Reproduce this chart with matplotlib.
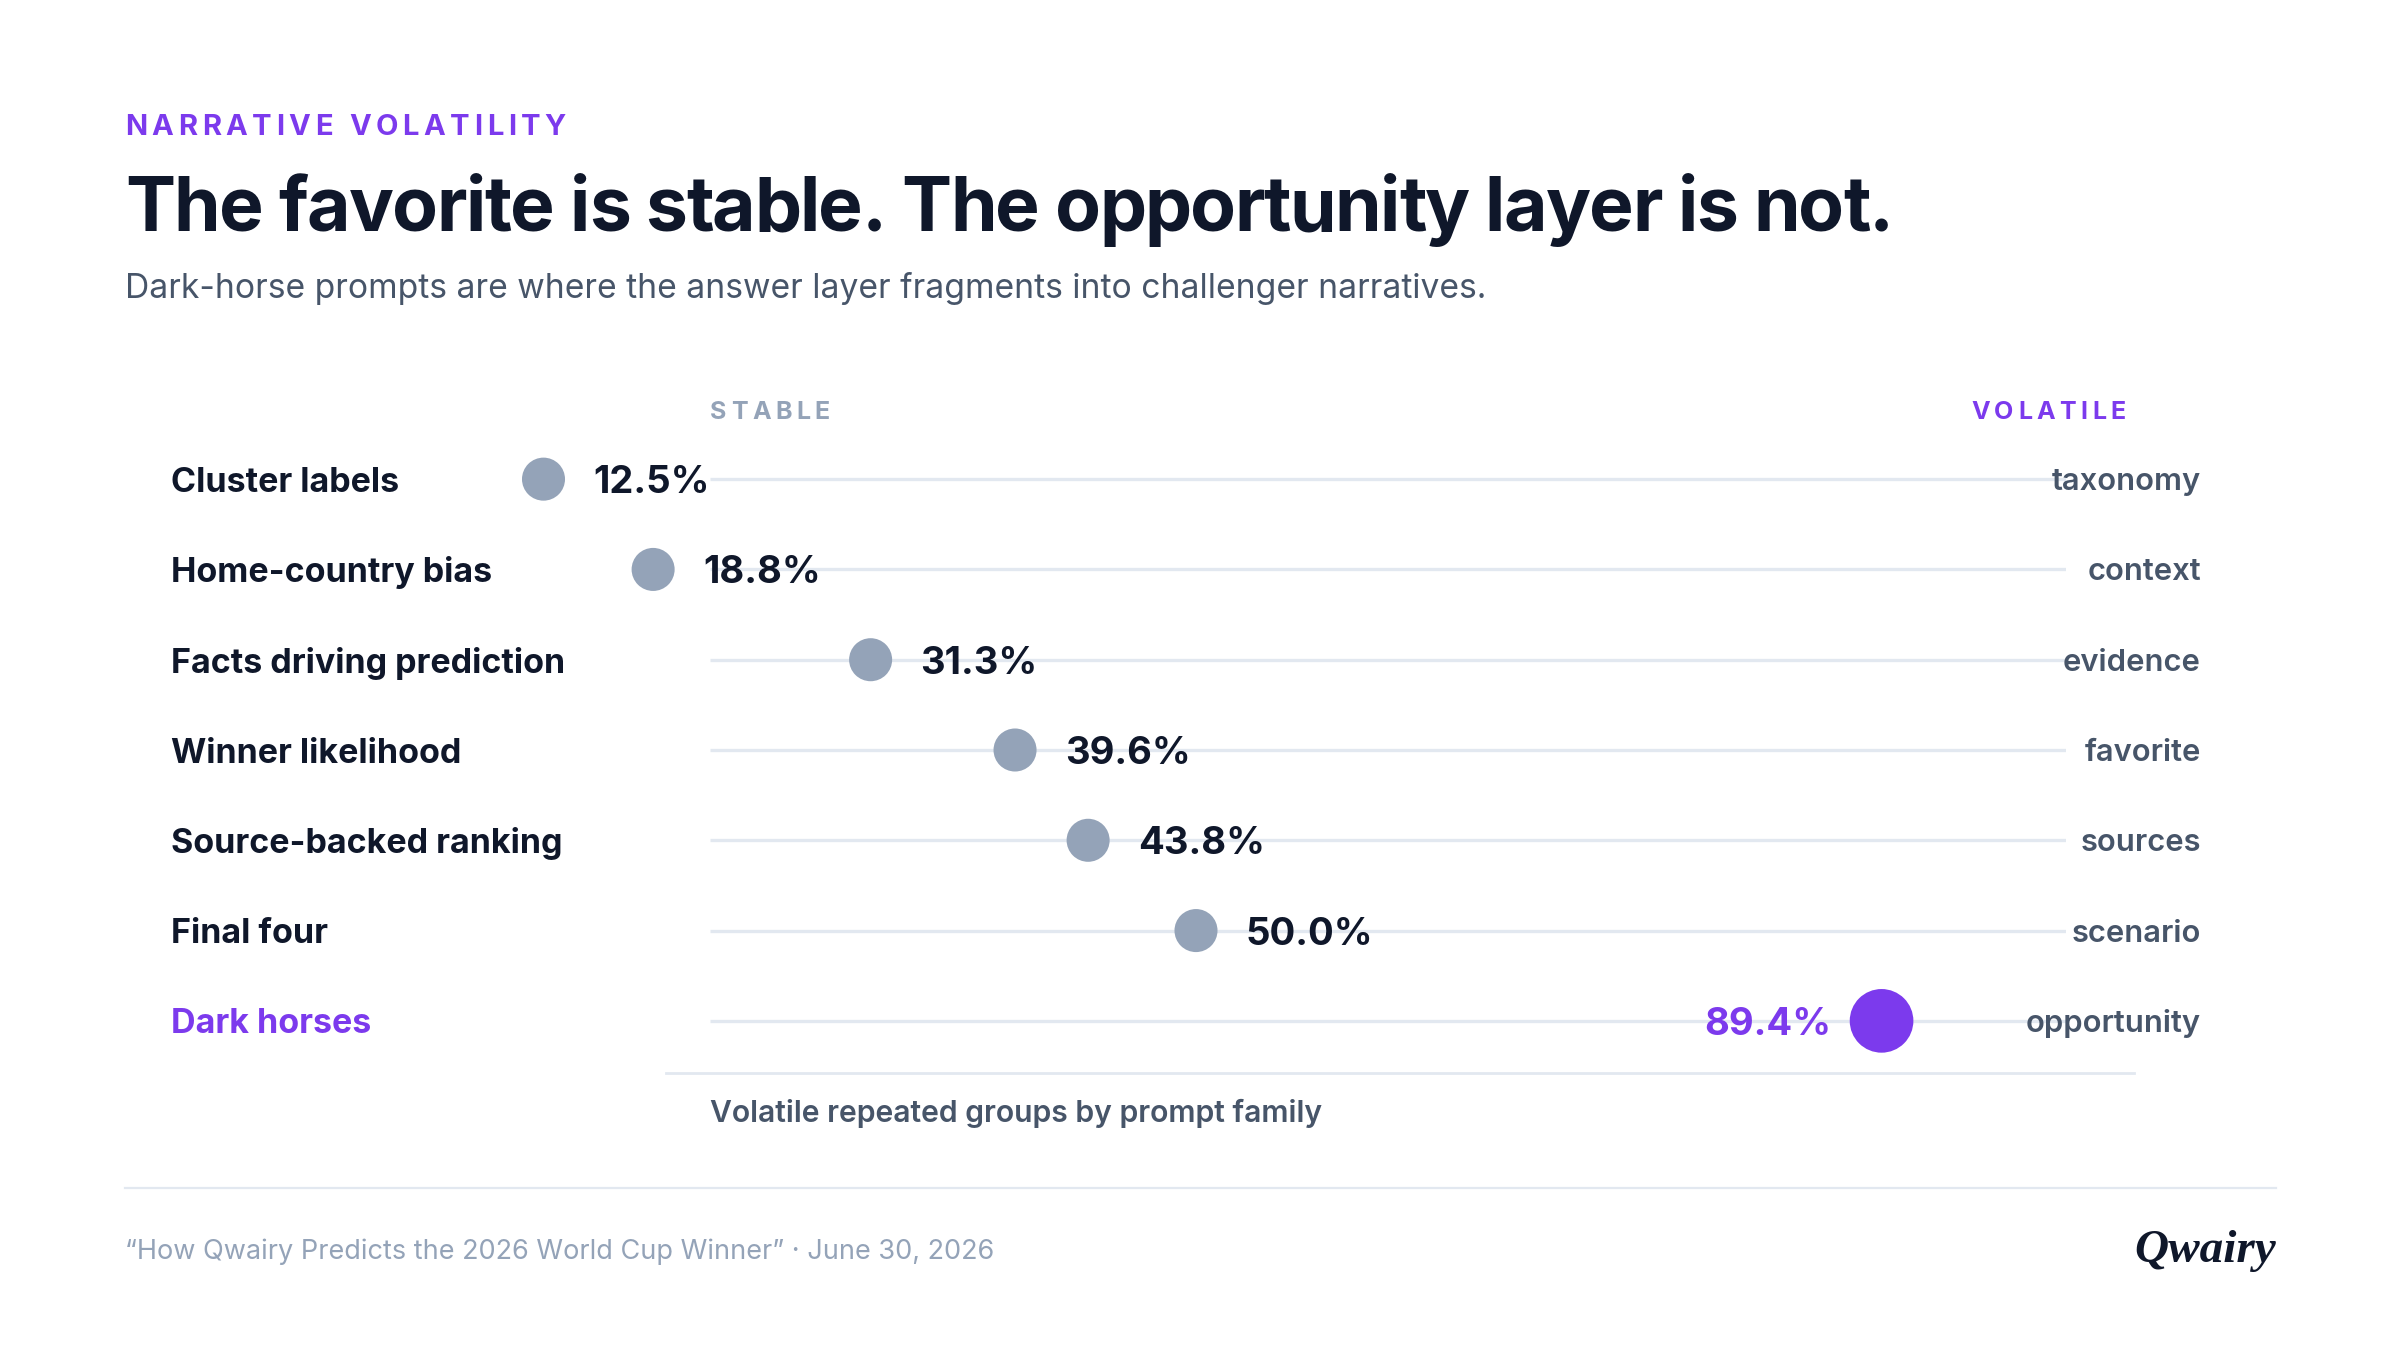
import matplotlib
matplotlib.use('Agg')
import matplotlib.pyplot as plt
from matplotlib.transforms import blended_transform_factory

# data
families = ['Cluster labels', 'Home-country bias', 'Facts driving prediction',
            'Winner likelihood', 'Source-backed ranking', 'Final four', 'Dark horses']
volatility = [12.5, 18.8, 31.3, 39.6, 43.8, 50.0, 89.4]
themes = ['taxonomy', 'context', 'evidence', 'favorite', 'sources', 'scenario', 'opportunity']
highlight = 'Dark horses'

PURPLE = '#7c3aed'
GRAY_DOT = '#94a3b8'
INK = '#0f172a'
SLATE = '#475569'
MUTED = '#94a3b8'
RULE = '#e2e8f0'

plt.rcParams['font.family'] = ['Inter', 'DejaVu Sans']

W, H = 2400, 1350
fig = plt.figure(figsize=(24, 13.5), dpi=100)
fig.patch.set_facecolor('white')
renderer = fig.canvas.get_renderer()


def fx(px):
    return px / W


def fy(py):
    return 1 - py / H


def measure(s, **kw):
    t = fig.text(0, 0, s, **kw)
    w = t.get_window_extent(renderer).width
    t.remove()
    return w


def tracked(x, y, s, gap=0.0, width=None, ha='left', **kw):
    # per-glyph placement so letter spacing can be set (css letter-spacing)
    lefts = []
    for i, ch in enumerate(s):
        if ch == ' ':
            lefts.append(None)
        else:
            lefts.append(measure(s[:i + 1], **kw) - measure(ch, **kw))
    natural = measure(s, **kw)
    if width is not None:
        gap = (width - natural) / (len(s) - 1)
    total = natural + gap * (len(s) - 1)
    x0 = x - total if ha == 'right' else x
    for i, (ch, lx) in enumerate(zip(s, lefts)):
        if lx is None:
            continue
        fig.text(fx(x0 + lx + gap * i), fy(y), ch, ha='left', va='baseline', **kw)


# header
tracked(125, 135, 'NARRATIVE VOLATILITY', width=441, fontsize=21, fontweight='bold', color=PURPLE)
tracked(125, 231, 'The favorite is stable. The opportunity layer is not.', width=1769,
        fontsize=54, fontweight='bold', color=INK)
fig.text(fx(125), fy(298), 'Dark-horse prompts are where the answer layer fragments into challenger narratives.',
         fontsize=24.2, color=SLATE, va='baseline')

# plotting axes: 0..100 % mapped onto the dot area
top, bottom = 434, 1066
ax = fig.add_axes([fx(326), fy(bottom), (2066 - 326) / W, (bottom - top) / H])
ax.set_xlim(0, 100)
ax.set_ylim(len(families) - 0.5, -0.5)
ax.axis('off')

rows = list(range(len(families)))
tr = blended_transform_factory(fig.transFigure, ax.transData)

# tracks
ax.hlines(rows, fx(710), fx(2068), transform=tr, color=RULE, lw=2.4, zorder=1)

colors = [PURPLE if f == highlight else GRAY_DOT for f in families]
sizes = [2100 if f == highlight else 960 for f in families]
ax.scatter(volatility, rows, s=sizes, c=colors, linewidths=0, zorder=3)

for i, (fam, v, th) in enumerate(zip(families, volatility, themes)):
    hl = fam == highlight
    fig.text(fx(171), i, fam, transform=tr, fontsize=24.5, fontweight='bold',
             color=PURPLE if hl else INK, va='center_baseline', ha='left')
    fig.text(fx(2201), i, th, transform=tr, fontsize=22.3, fontweight='semibold',
             color=SLATE, va='center_baseline', ha='right')
    if hl:
        ax.annotate(f'{v:.1f}%', (v, i), xytext=(-50, 0), textcoords='offset pixels',
                    ha='right', va='center_baseline', fontsize=27.5, fontweight='bold',
                    color=PURPLE, zorder=4)
    else:
        ax.annotate(f'{v:.1f}%', (v, i), xytext=(50, 0), textcoords='offset pixels',
                    ha='left', va='center_baseline', fontsize=27.5, fontweight='bold',
                    color=INK, zorder=4)

# column headers
tracked(710, 419, 'STABLE', 4.5, fontsize=18, fontweight='bold', color=MUTED)
tracked(2126, 419, 'VOLATILE', 4.5, ha='right', fontsize=18, fontweight='bold', color=PURPLE)

# baseline rule + axis caption
fig.add_artist(plt.Line2D([fx(666), fx(2134)], [fy(1073), fy(1073)], color=RULE, lw=2))
fig.text(fx(710), fy(1122), 'Volatile repeated groups by prompt family',
         fontsize=21.7, fontweight='semibold', color=SLATE, va='baseline')

# footer
fig.add_artist(plt.Line2D([fx(125), fx(2276)], [fy(1188), fy(1188)], color=RULE, lw=1.6))
fig.text(fx(125), fy(1259), '\u201cHow Qwairy Predicts the 2026 World Cup Winner\u201d \u00b7 June 30, 2026',
         fontsize=19.5, color=MUTED, va='baseline')
fig.text(fx(2276), fy(1262), 'Qwairy', fontsize=34, fontstyle='italic', fontweight='bold',
         family=['Liberation Serif', 'DejaVu Serif'], color=INK, ha='right', va='baseline')

fig.savefig('out.png', dpi=100, facecolor='white')
